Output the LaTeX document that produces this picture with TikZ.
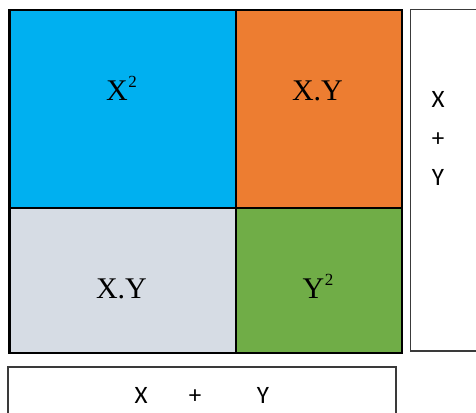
\documentclass[tikz,border=0pt]{standalone}
\usepackage{fontspec}
\setmainfont{Liberation Serif}
\newfontfamily\boxfont{Carlito}
\definecolor{cblue}{HTML}{00B0F0}
\definecolor{corange}{HTML}{ED7D31}
\definecolor{cgray}{HTML}{D6DCE4}
\definecolor{cgreen}{HTML}{70AD47}
\definecolor{cline}{HTML}{3A3A3A}
\newcommand{\supii}{\kern0.5pt\raisebox{12.5pt}{\fontsize{17}{17}\selectfont 2}}
\begin{document}
\begin{tikzpicture}[x=1pt,y=-1pt,
  cell/.style={draw=black,line width=2.4pt},
  celltext/.style={inner sep=0pt,anchor=base,font=\fontsize{30}{36}\selectfont},
  sumbox/.style={draw=cline,line width=1.4pt},
  sumtext/.style={inner sep=0pt,anchor=base,font=\boxfont\fontsize{25}{30}\selectfont}]
\useasboundingbox (0,0) rectangle (476,412);
\clip (0,0) rectangle (476,412);
\fill[white] (0,0) rectangle (476,412);
% cells
\fill[cblue] (9.3,10.3) rectangle (236,207.7);
\fill[corange] (236,10.3) rectangle (401.7,207.7);
\fill[cgray] (9.3,207.7) rectangle (236,353);
\fill[cgreen] (236,207.7) rectangle (401.7,353);
\draw[cell] (9.3,10.3) rectangle (401.7,353);
\draw[cell] (236,10.3) -- (236,353);
\draw[cell] (9.3,207.7) -- (401.7,207.7);
% cell texts
\node[celltext] (xx) at (121.5,100) {X\supii};
\node[celltext] (xy1) at (317.5,100.5) {X.Y};
\node[celltext] (xy2) at (121.5,298) {X.Y};
\node[celltext] (yy) at (318,298) {Y\supii};
% sum boxes
\draw[sumbox] (410.5,9.5) rectangle (490,351);
\draw[sumbox] (8,367) rectangle (396,430);
\node[sumtext] (rx) at (438,107) {X};
\node[sumtext] (rp) at (438,146.5) {+};
\node[sumtext] (ry) at (438,185) {Y};
\node[sumtext] (bx) at (141,403) {X};
\node[sumtext] (bp) at (195,403) {+};
\node[sumtext] (by) at (263,403) {Y};
\end{tikzpicture}
\end{document}
